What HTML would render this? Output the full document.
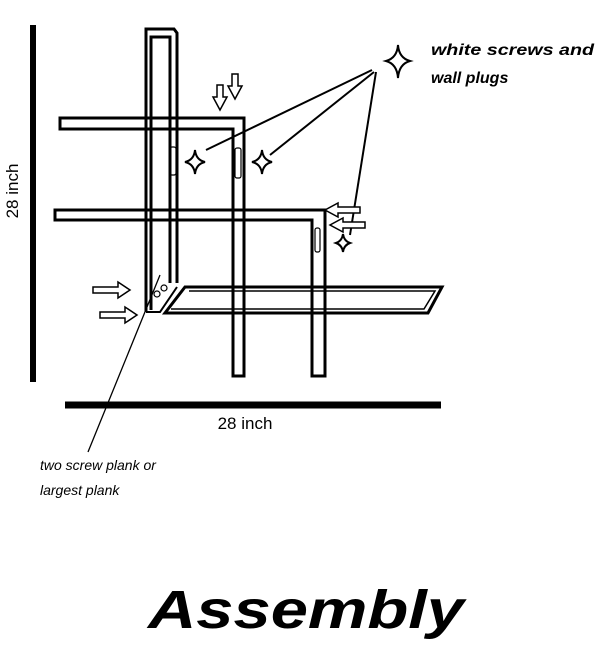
<!DOCTYPE html>
<html><head><style>html,body{margin:0;padding:0;background:#fff}</style></head>
<body>
<svg width="600" height="667" viewBox="0 0 600 667" xmlns="http://www.w3.org/2000/svg">
<g fill="none" stroke="#000" stroke-width="3" stroke-linejoin="miter">
<!-- axes -->
<line x1="33" y1="25" x2="33" y2="382" stroke-width="6"/>
<line x1="65" y1="405" x2="441" y2="405" stroke-width="7"/>
<!-- tall post -->
<path d="M146,312 L146,29 L174,29 L177,33 L177,283"/>
<path d="M151,310 L151,37 L170,37 L170,283"/>
<!-- top shelf -->
<path d="M60,118 L244,118 L244,376 L233,376 L233,129 L60,129 Z"/>
<!-- second shelf -->
<path d="M55,210 L325,210 L325,376 L312,376 L312,220 L55,220 Z"/>
<!-- bottom plank -->
<path d="M185,287 L442,287 L428,313 L165,313 Z"/>
<path d="M189,291 L435,291 L424,309 L171,309" stroke-width="1.5"/>
<path d="M146,312 L160,312 L177,287" stroke-width="2"/>
<!-- slots -->
<rect x="170" y="147" width="6" height="28" rx="2" stroke-width="1.2"/>
<rect x="235" y="148" width="6" height="30" rx="2" stroke-width="1.2"/>
<rect x="315" y="228" width="5" height="24" rx="2" stroke-width="1.2"/>
<circle cx="157" cy="294" r="3" stroke-width="1.2"/>
<circle cx="164" cy="288" r="3" stroke-width="1.2"/>
<!-- leader lines -->
<line x1="372" y1="70" x2="206" y2="150" stroke-width="2"/>
<line x1="374" y1="72" x2="270" y2="155" stroke-width="2"/>
<line x1="376" y1="72" x2="350" y2="235" stroke-width="2"/>
<line x1="160" y1="275" x2="88" y2="452" stroke-width="1.3"/>
</g>
<!-- stars -->
<g fill="#fff" stroke="#000" stroke-width="2">
<path d="M195,150 Q196,160 205,162 Q196,164 195,174 Q194,164 185,162 Q194,160 195,150Z"/>
<path d="M262,150 Q263,160 272,162 Q263,164 262,174 Q261,164 252,162 Q261,160 262,150Z"/>
<path d="M343,234 Q344,241 350,243 Q344,245 343,252 Q342,245 336,243 Q342,241 343,234Z"/>
<path d="M398,45 Q399,58 410,61 Q399,64 398,78 Q397,64 386,61 Q397,58 398,45Z"/>
</g>
<!-- arrows -->
<g fill="#fff" stroke="#000" stroke-width="1.5">
<path d="M217,85 h6 v12 h4 l-7,13 l-7,-13 h4 z"/>
<path d="M232,74 h6 v12 h4 l-7,13 l-7,-13 h4 z"/>
<path d="M360,210 v6 h-22 v4 l-13,-7 l13,-7 v4 z" transform="translate(0,-3)"/>
<path d="M365,222 v6 h-22 v4 l-13,-7 l13,-7 v4 z"/>
<path d="M93,287 v6 h25 v5 l12,-8 l-12,-8 v5 z"/>
<path d="M100,312 v6 h25 v5 l12,-8 l-12,-8 v5 z"/>
</g>
<g font-family="Liberation Sans, sans-serif" fill="#000">
<text x="245" y="429" font-size="17" text-anchor="middle">28 inch</text>
<text transform="translate(18,191) rotate(-90)" font-size="17" text-anchor="middle">28 inch</text>
<g font-style="italic" font-weight="bold" font-size="16">
<text x="431" y="55" textLength="163" lengthAdjust="spacingAndGlyphs">white screws and</text>
<text x="431" y="83">wall plugs</text>
</g>
<g font-style="italic" font-size="14">
<text x="40" y="470">two screw plank or</text>
<text x="40" y="495">largest plank</text>
</g>
<text x="306" y="628" font-size="54" font-weight="bold" font-style="italic" text-anchor="middle" textLength="316" lengthAdjust="spacingAndGlyphs">Assembly</text>
</g>
</svg>
</body></html>
